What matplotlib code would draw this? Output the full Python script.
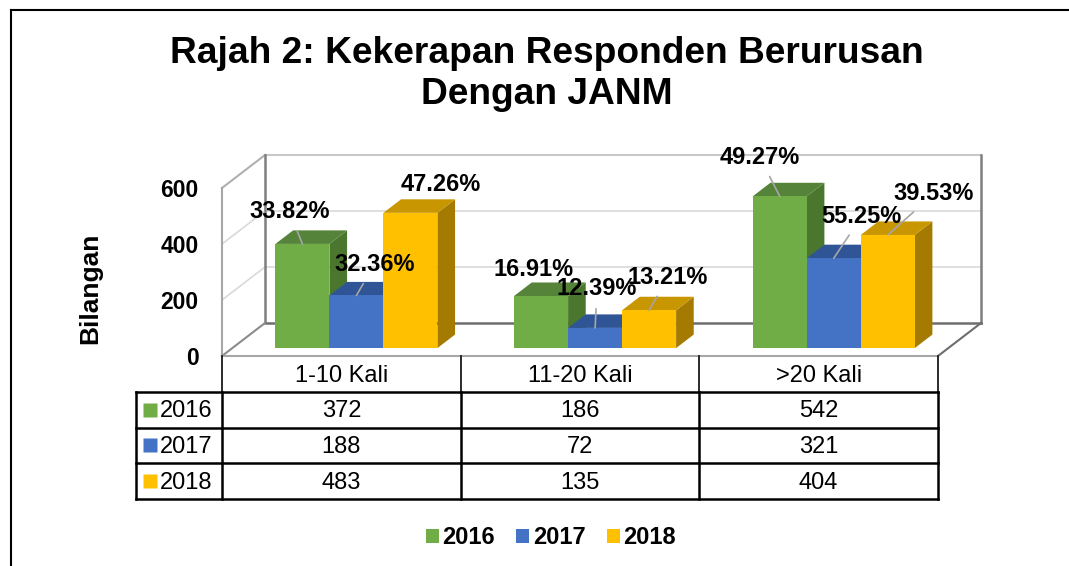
import matplotlib
matplotlib.use("Agg")
import matplotlib.pyplot as plt
from matplotlib.patches import Polygon, Patch
from matplotlib.lines import Line2D

plt.rcParams['font.family'] = ['Liberation Sans', 'DejaVu Sans']

# data
categories = ["1-10 Kali", "11-20 Kali", ">20 Kali"]
years = ["2016", "2017", "2018"]
counts_2016 = [372, 186, 542]
counts_2017 = [188, 72, 321]
counts_2018 = [483, 135, 404]
series = [counts_2016, counts_2017, counts_2018]

# colours: front, top, side
fronts = ["#70AD47", "#4472C4", "#FFC000"]
tops = ["#55833A", "#2F5597", "#C89600"]
sides = ["#4A762E", "#2E5390", "#A47B00"]

W, H = 1069, 566
fig = plt.figure(figsize=(W / 100, H / 100), dpi=100)


def fx(px):
    return px / W


def fy(py):
    return 1 - py / H


# front plane of the 3d box (pixels): x 222..938, y 356 (0) .. 188 (600)
ax = fig.add_axes([fx(222), fy(356), fx(938) - fx(222), fy(188) - fy(356)])
ax.set_xlim(0, 3)
ax.set_ylim(0, 600)
ax.patch.set_visible(False)
for s in ax.spines.values():
    s.set_visible(False)

# depth of the box in data units (43px right, 33px up)
DX = 43 / 716 * 3
DY = 33 / 168 * 600
ymax = 600
edge = "#8C8C8C"
grid = "#D9D9D9"

# walls and floor
ax.add_patch(Polygon([(DX, DY), (3 + DX, DY), (3 + DX, ymax + DY), (DX, ymax + DY)],
                     closed=True, fc="white", ec="none", clip_on=False, zorder=1))
ax.add_patch(Polygon([(0, 0), (DX, DY), (DX, ymax + DY), (0, ymax)],
                     closed=True, fc="white", ec="none", clip_on=False, zorder=1))
for v in [200, 400]:
    ax.plot([DX, 3 + DX], [DY + v, DY + v], color=grid, lw=1.2, clip_on=False, zorder=2)
    ax.plot([0, DX], [v, DY + v], color=grid, lw=1.2, clip_on=False, zorder=2)
ax.plot([DX, 3 + DX], [ymax + DY, ymax + DY], color="#C8C8C8", lw=1.5, clip_on=False, zorder=2)
ax.plot([0, DX], [ymax, ymax + DY], color="#B0B0B0", lw=1.5, clip_on=False, zorder=2)
ax.plot([0, 0], [0, ymax], color="#A6A6A6", lw=1.5, clip_on=False, zorder=2)
ax.plot([DX, DX], [DY, ymax + DY], color="#7F7F7F", lw=1.8, clip_on=False, zorder=2)
ax.plot([3 + DX, 3 + DX], [DY, ymax + DY], color="#7F7F7F", lw=1.8, clip_on=False, zorder=2)
# floor
ax.add_patch(Polygon([(0, 0), (3, 0), (3 + DX, DY), (DX, DY)],
                     closed=True, fc="white", ec="none", clip_on=False, zorder=2))
ax.plot([DX, 3 + DX], [DY, DY], color="#6E6E6E", lw=1.8, clip_on=False, zorder=3)
ax.plot([0, DX], [0, DY], color=edge, lw=1.5, clip_on=False, zorder=3)
ax.plot([3, 3 + DX], [0, DY], color="#6E6E6E", lw=1.5, clip_on=False, zorder=3)
ax.plot([0, 3], [0, 0], color="#A6A6A6", lw=1.5, clip_on=False, zorder=3)

# bars
bw = 54 / 716 * 3
d0, bd = 0.24, 0.41
start = 0.5 - 1.5 * bw + 0.02
bx, by = bd * DX, bd * DY

label_off = [[(-13, 32), (18, 31), (30, 28)],
             [(-8, 26), (2, 39), (19, 33)],
             [(-20, 39), (28, 42), (46, 41)]]
leader = [[True, True, False],
          [False, True, True],
          [True, True, True]]

totals = [sum(s) for s in series]
for i in range(len(categories)):
    for j, vals in enumerate(series):
        v = vals[i]
        x0 = i + start + j * bw + d0 * DX
        y0 = d0 * DY
        t = y0 + v
        z = 5 + j
        ax.add_patch(Polygon([(x0 + bw, y0), (x0 + bw, t), (x0 + bw + bx, t + by), (x0 + bw + bx, y0 + by)],
                             closed=True, fc=sides[j], ec="none", clip_on=False, zorder=z))
        ax.add_patch(Polygon([(x0, t), (x0 + bw, t), (x0 + bw + bx, t + by), (x0 + bx, t + by)],
                             closed=True, fc=tops[j], ec="none", clip_on=False, zorder=z))
        ax.add_patch(Polygon([(x0, y0), (x0 + bw, y0), (x0 + bw, t), (x0, t)],
                             closed=True, fc=fronts[j], ec="none", clip_on=False, zorder=z))
        pct = v / totals[j] * 100
        ox, oy = label_off[i][j]
        arrow = None
        if leader[i][j]:
            arrow = dict(arrowstyle="-", color="#A6A6A6", lw=1.2, shrinkA=4, shrinkB=0)
        ax.annotate(f"{pct:.2f}%", xy=(x0 + bw / 2, t), xytext=(ox * 0.72, oy * 0.72),
                    textcoords="offset points", ha="center", va="center",
                    fontsize=17, fontweight="bold", color="black",
                    arrowprops=arrow, annotation_clip=False, zorder=20)

ax.set_xticks([])
ax.set_yticks([0, 200, 400, 600])
ax.set_yticklabels(["0", "200", "400", "600"], fontsize=16.5, fontweight="bold")
ax.tick_params(axis="y", length=0, pad=17)
ax.set_ylabel("Bilangan", fontsize=19, fontweight="bold")
ax.yaxis.set_label_coords((102 - 222) / 716, (356 - 288) / 168)

# data table under the chart
tab = fig.add_axes([fx(222), fy(499), fx(938) - fx(222), fy(356) - fy(499)])
tab.set_xlim(0, 3)
tab.set_ylim(4, 0)
tab.axis("off")
lc = -(222 - 136) / 716 * 3
for x in range(4):
    tab.plot([x, x], [0, 1], color="#1A1A1A", lw=1.3, clip_on=False)
for x in [lc, 0, 1, 2, 3]:
    tab.plot([x, x], [1, 4], color="black", lw=1.8, clip_on=False)
for y in [1, 2, 3, 4]:
    tab.plot([lc, 3], [y, y], color="black", lw=1.8, clip_on=False)
for i, c in enumerate(categories):
    tab.text(i + 0.5, 0.55, c, ha="center", va="center", fontsize=17)
for j, vals in enumerate(series):
    for i, v in enumerate(vals):
        tab.text(i + 0.5, j + 1.55, str(v), ha="center", va="center", fontsize=17)
    tab.plot([-(222 - 149.5) / 716 * 3], [j + 1.5], marker="s", ms=9.5, color=fronts[j],
             mec="none", clip_on=False)
    tab.text(-(222 - 160) / 716 * 3, j + 1.55, years[j], ha="left", va="center", fontsize=17)

# legend
handles = [Patch(fc=c, ec="none") for c in fronts]
fig.legend(handles, years, loc="center", bbox_to_anchor=(fx(551), fy(538)), ncol=3,
           frameon=False, prop={"size": 17, "weight": "bold"}, handlelength=0.55,
           handleheight=0.55, handletextpad=0.15, columnspacing=0.9)

# title
fig.text(fx(547), fy(74), "Rajah 2: Kekerapan Responden Berurusan\nDengan JANM",
         ha="center", va="center", fontsize=26.7, fontweight="bold", linespacing=1.2)

# chart frame (only left and top edges are visible)
fig.add_artist(Line2D([fx(10.5), fx(10.5)], [0, fy(9.5)], color="black", lw=1.5))
fig.add_artist(Line2D([fx(10.5), 1], [fy(9.5), fy(9.5)], color="black", lw=1.5))

fig.savefig("out.png", dpi=100)
